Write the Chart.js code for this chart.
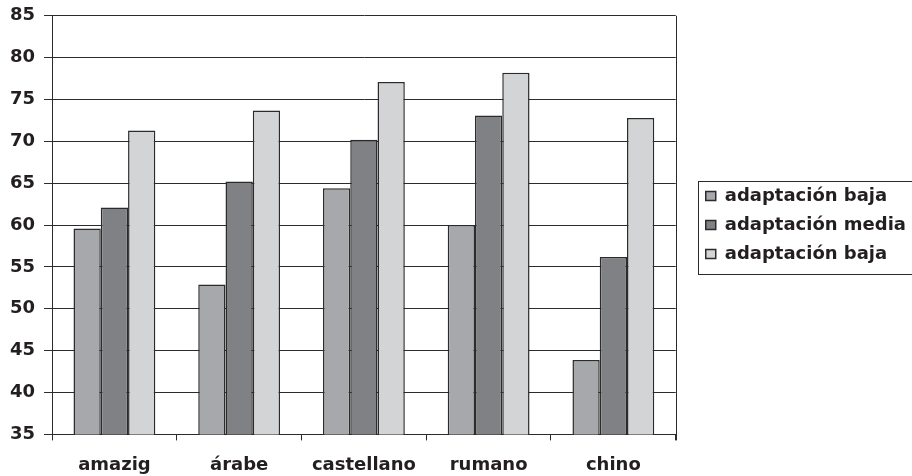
<!DOCTYPE html>
<html>
<head>
<meta charset="utf-8">
<script src="https://cdn.jsdelivr.net/npm/chart.js@4/dist/chart.umd.min.js"></script>
<style>
  html, body { margin: 0; padding: 0; background: #fff; overflow: hidden; }
  #wrap { width: 912px; height: 476px; position: relative; overflow: hidden; }
  #c { position: absolute; left: 0; top: -4px; }
</style>
</head>
<body>
<div id="wrap"><canvas id="c" width="912" height="496"></canvas></div>
<script>
// Categories and series
const categories = ['amazig', 'árabe', 'castellano', 'rumano', 'chino'];
const seriesLabels = ['adaptación baja', 'adaptación media', 'adaptación baja'];
const bajaValues  = [59.6, 52.9, 64.4, 60.0, 43.9];
const mediaValues = [62.1, 65.2, 70.2, 73.1, 56.2];
const altaValues  = [71.3, 73.7, 77.1, 78.2, 72.8];
const yTicks = [35, 40, 45, 50, 55, 60, 65, 70, 75, 80, 85];

const colors = ['#a7a8ab', '#808185', '#d3d4d6'];
const lineColor = '#2b2b2b';
const textColor = '#231f20';
const font = { family: '"DejaVu Sans", sans-serif', size: 18, weight: 'bold' };

// Nudges the legend away from the plot and frames it with a thin border
const legendFrame = {
  id: 'legendFrame',
  afterLayout(chart) {
    const lg = chart.legend;
    lg.left += 19;
    lg.right += 19;
  },
  afterDraw(chart) {
    const lg = chart.legend;
    const boxes = lg.legendHitBoxes;
    if (!boxes || !boxes.length) return;
    const first = boxes[0], last = boxes[boxes.length - 1];
    const ctx = chart.ctx;
    const x = first.left - 8;
    const y = first.top - 6;
    const h = last.top + last.height + 11 - y;
    ctx.save();
    ctx.strokeStyle = lineColor;
    ctx.lineWidth = 1;
    ctx.strokeRect(Math.round(x) + 0.5, Math.round(y) + 0.5, 400, Math.round(h));
    ctx.restore();
  }
};

// Right-hand edge of the plot area
const plotEdge = {
  id: 'plotEdge',
  afterDatasetsDraw(chart) {
    const a = chart.chartArea;
    const ctx = chart.ctx;
    ctx.save();
    ctx.strokeStyle = lineColor;
    ctx.lineWidth = 1;
    ctx.beginPath();
    const x = Math.round(a.right) + 0.5;
    ctx.moveTo(x, a.top);
    ctx.lineTo(x, a.bottom + 6);
    ctx.stroke();
    ctx.restore();
  }
};

new Chart(document.getElementById('c'), {
  type: 'bar',
  data: {
    labels: categories,
    datasets: [
      { label: seriesLabels[0], data: bajaValues,  backgroundColor: colors[0] },
      { label: seriesLabels[1], data: mediaValues, backgroundColor: colors[1] },
      { label: seriesLabels[2], data: altaValues,  backgroundColor: colors[2] }
    ].map(d => Object.assign(d, {
      borderColor: lineColor,
      borderWidth: 1.5,
      borderSkipped: 'bottom',
      categoryPercentage: 0.656,
      barPercentage: 1.0
    }))
  },
  options: {
    responsive: false,
    animation: false,
    events: [],
    layout: { padding: { left: 1, right: 15, top: 10, bottom: 2 } },
    plugins: {
      tooltip: { enabled: false },
      legend: {
        position: 'right',
        fullSize: false,
        labels: {
          boxWidth: 10,
          boxHeight: 9,
          padding: 11,
          color: textColor,
          font: font
        }
      }
    },
    scales: {
      x: {
        offset: true,
        grid: {
          offset: true,
          drawOnChartArea: false,
          drawTicks: true,
          tickLength: 6,
          color: lineColor,
          lineWidth: 1
        },
        border: { display: true, color: lineColor, width: 1 },
        ticks: { color: textColor, font: font, padding: 14, maxRotation: 0 }
      },
      y: {
        min: yTicks[0],
        max: yTicks[yTicks.length - 1],
        afterBuildTicks(scale) { scale.ticks = yTicks.map(v => ({ value: v })); },
        grid: {
          color: lineColor,
          lineWidth: 1,
          drawTicks: true,
          tickLength: 8
        },
        border: { display: true, color: lineColor, width: 1 },
        ticks: { color: textColor, font: font, padding: 9 }
      }
    }
  },
  plugins: [legendFrame, plotEdge]
});
</script>
</body>
</html>
